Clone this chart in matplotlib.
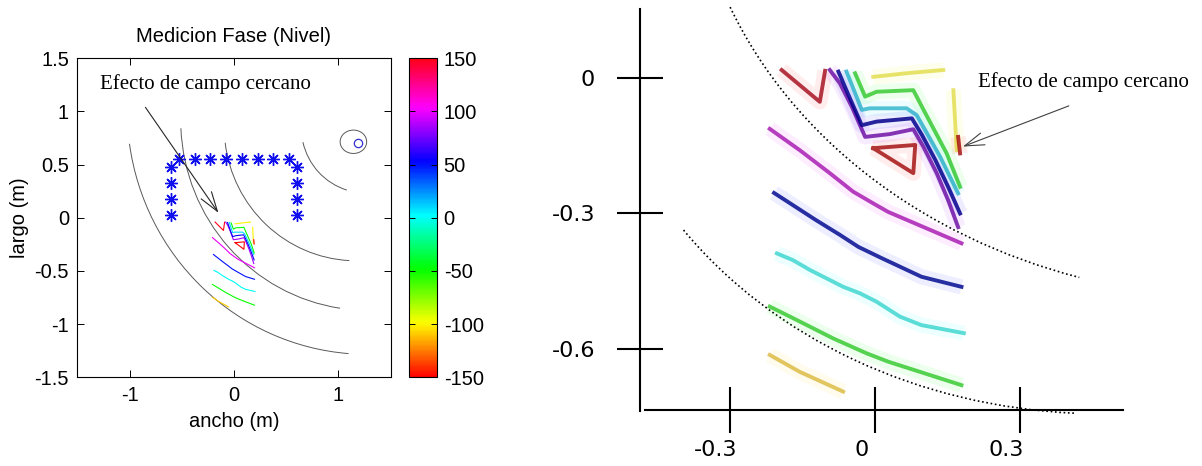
import matplotlib
matplotlib.use("Agg")
import matplotlib.pyplot as plt
from matplotlib.patches import Arc, Ellipse
from matplotlib.colors import Normalize, to_rgb
from matplotlib.cm import ScalarMappable
from matplotlib.transforms import ScaledTranslation

plt.rcParams['axes.unicode_minus'] = False

# phase (deg) of each contour line
line_levels = [100, 50, 0, -50, -110, 150, 85, 55, 10, -50, -100, -100, -150, -150]
# contour lines in metres (ancho, largo)
line_x = [
    [-0.206, -0.143, -0.080, -0.031, 0.011, 0.042, 0.196],
    [-0.197, -0.150, -0.111, -0.059, -0.020, 0.029, 0.112, 0.196],
    [-0.191, -0.157, -0.122, -0.087, -0.052, -0.017, 0.018, 0.067, 0.112, 0.201],
    [-0.206, -0.150, -0.073, -0.003, 0.043, 0.196],
    [-0.206, -0.143, -0.052],
    [-0.181, -0.101, -0.090],
    [-0.080, -0.059, -0.034, -0.006, 0.046, 0.095, 0.116, 0.144, 0.168, 0.189],
    [-0.062, -0.038, -0.013, 0.018, 0.092, 0.113, 0.141, 0.168, 0.193],
    [-0.045, -0.013, 0.004, 0.081, 0.102, 0.151, 0.189],
    [-0.027, -0.006, 0.018, 0.095, 0.113, 0.165, 0.193],
    [0.011, 0.081, 0.158],
    [0.179, 0.186],
    [0.011, 0.099, 0.095, 0.011],
    [0.189, 0.193],
]
line_y = [
    [-0.186, -0.239, -0.296, -0.342, -0.371, -0.392, -0.470],
    [-0.345, -0.381, -0.411, -0.449, -0.479, -0.507, -0.553, -0.578],
    [-0.495, -0.512, -0.536, -0.557, -0.578, -0.594, -0.615, -0.652, -0.673, -0.693],
    [-0.627, -0.660, -0.706, -0.743, -0.764, -0.822],
    [-0.747, -0.789, -0.838],
    [-0.040, -0.119, -0.042],
    [-0.040, -0.073, -0.131, -0.206, -0.199, -0.187, -0.230, -0.296, -0.363, -0.430],
    [-0.044, -0.110, -0.177, -0.168, -0.160, -0.201, -0.263, -0.330, -0.396],
    [-0.044, -0.139, -0.135, -0.135, -0.152, -0.255, -0.346],
    [-0.048, -0.106, -0.094, -0.090, -0.131, -0.247, -0.330],
    [-0.057, -0.048, -0.040],
    [-0.090, -0.239],
    [-0.234, -0.226, -0.296, -0.234],
    [-0.206, -0.247],
]

# measurement points (asterisks)
star_x = [-0.525, -0.375, -0.225, -0.075, 0.075, 0.225, 0.375, 0.525,
          -0.6, -0.6, -0.6, -0.6, 0.6, 0.6, 0.6, 0.6]
star_y = [0.55, 0.55, 0.55, 0.55, 0.55, 0.55, 0.55, 0.55,
          0.48, 0.33, 0.18, 0.03, 0.48, 0.33, 0.18, 0.03]

# grey wavefront arcs: centre, radius, start/end angle
arc_cx = [1.277, 1.28, 1.17, 1.26]
arc_cy = [1.016, 0.92, 0.86, 0.85]
arc_r = [2.30, 1.79, 1.264, 0.616]
arc_t1 = [188, 182.5, 187, 193]
arc_t2 = [265.5, 261.5, 267, 253]

# dotted arcs of the zoomed view
zarc_cx = [0.78, 0.489]
zarc_cy = [0.548, 0.176]
zarc_r = [1.153, 1.069]
zarc_t1 = [202, 215]
zarc_t2 = [253, 267]

source_x, source_y = 1.19, 0.706
ring_x, ring_y, ring_w, ring_h = 1.143, 0.715, 0.254, 0.22

cbar_ticks = [-150, -100, -50, 0, 50, 100, 150]
zoom_xticks = [-0.3, 0, 0.3]
zoom_yticks = [0, -0.3, -0.6]

note = 'Efecto de campo cercano'

cmap = plt.get_cmap('hsv')
norm = Normalize(-150, 150)


def zoom_color(level):
    # the enlarged copy shows the lines darker and a bit washed out
    r, g, b = to_rgb(cmap(norm(level)))
    lum = 0.299 * r + 0.587 * g + 0.114 * b
    k = 0.5 + 0.4 * lum
    return (r * k, g * k, b * k), 0.9 - 0.4 * lum


W, H = 1202, 466
fig = plt.figure(figsize=(W / 100, H / 100), dpi=100)

sans = 'Liberation Sans'
serif = 'Liberation Serif'

# ---------------- left panel
ax = fig.add_axes([77.3 / W, (H - 377.3) / H, 313.4 / W, 319 / H])
ax.set_xlim(-1.5, 1.5)
ax.set_ylim(-1.5, 1.5)

for cx, cy, r, t1, t2 in zip(arc_cx, arc_cy, arc_r, arc_t1, arc_t2):
    ax.add_patch(Arc((cx, cy), 2 * r, 2 * r, theta1=t1, theta2=t2,
                     color='0.35', lw=0.7))

for xs, ys, lev in zip(line_x, line_y, line_levels):
    ax.plot(xs, ys, color=cmap(norm(lev)), lw=0.8)

ax.plot(star_x, star_y, ls='none', marker=(8, 2, 0), ms=9, mew=1.0, color='#1010ee')
ax.add_patch(Ellipse((ring_x, ring_y), ring_w, ring_h, fill=False, color='0.35', lw=0.7))
ax.plot([source_x], [source_y], marker='o', ms=6, mfc='none', mec='#3030d0', mew=0.9)

ax.text(-1.286, 1.258, note, family=serif, fontsize=15, ha='left', va='center')
ax.annotate('', xy=(-0.149, 0.047), xytext=(-0.848, 1.039),
            arrowprops=dict(arrowstyle='->,head_length=1.4,head_width=0.45',
                            color='0.15', lw=0.8, shrinkA=0, shrinkB=0))

ax.set_xticks([-1, 0, 1])
ax.set_yticks([-1.5, -1, -0.5, 0, 0.5, 1, 1.5])
ax.set_yticklabels(['-1.5', '-1', '-0.5', '0', '0.5', '1', '1.5'])
ax.tick_params(direction='in', top=True, right=True, length=5, width=0.7,
               labelsize=14.5, pad=6)
for lab in ax.get_xticklabels() + ax.get_yticklabels():
    lab.set_family(sans)
for s in ax.spines.values():
    s.set_linewidth(0.8)
ax.set_title('Medicion Fase (Nivel)', family=sans, fontsize=14.5, pad=12)
ax.set_xlabel('ancho (m)', family=sans, fontsize=14.5, labelpad=5)
ax.set_ylabel('largo (m)', family=sans, fontsize=14.5, labelpad=4)

# colorbar
cax = fig.add_axes([409.3 / W, (H - 377.3) / H, 27.4 / W, 319 / H])
cb = fig.colorbar(ScalarMappable(norm=norm, cmap=cmap), cax=cax, ticks=cbar_ticks)
cb.ax.tick_params(direction='in', left=True, right=True, length=4, width=0.7,
                  labelsize=14.5, pad=5)
for lab in cb.ax.get_yticklabels():
    lab.set_family(sans)
cb.outline.set_linewidth(0.8)

# ---------------- right panel (zoom of the near field)
rect = [540 / W, 0, 662 / W, 1]
az = fig.add_axes(rect)
az.set_xlim(-0.6876, 0.7002)
az.set_ylim(-1.0226, 0.1337)
az.axis('off')

for cx, cy, r, t1, t2 in zip(zarc_cx, zarc_cy, zarc_r, zarc_t1, zarc_t2):
    az.add_patch(Arc((cx, cy), 2 * r, 2 * r, theta1=t1, theta2=t2,
                     color='black', lw=1.2, ls=(0, (1, 1.6))))

for xs, ys, lev in zip(line_x, line_y, line_levels):
    az.plot(xs, ys, color=cmap(norm(lev)), lw=11, alpha=0.07,
            solid_capstyle='butt')
for xs, ys, lev in zip(line_x, line_y, line_levels):
    c, a = zoom_color(lev)
    az.plot(xs, ys, color=c, alpha=a, lw=2.8)

az.text(0.231, -0.069, note, family=serif, fontsize=15, ha='left', va='center')
az.annotate('', xy=(0.199, -0.230), xytext=(0.421, -0.129),
            arrowprops=dict(arrowstyle='->,head_length=1.4,head_width=0.45',
                            color='0.25', lw=0.8, shrinkA=0, shrinkB=0))

# hand-drawn style ruler
ar = fig.add_axes(rect, label='ruler')
ar.set_xlim(-0.693, 0.6757)
ar.set_ylim(-0.8594, 0.1722)
ar.patch.set_visible(False)
ar.spines['top'].set_visible(False)
ar.spines['right'].set_visible(False)
ar.spines['left'].set_position(('data', -0.486))
ar.spines['left'].set_bounds(-0.738, 0.152)
ar.spines['bottom'].set_position(('data', -0.735))
ar.spines['bottom'].set_bounds(-0.476, 0.512)
for s in ('left', 'bottom'):
    ar.spines[s].set_linewidth(1.5)
ar.set_xticks(zoom_xticks)
ar.set_xticklabels(['-0.3', '0', '0.3'])
ar.set_yticks(zoom_yticks)
ar.set_yticklabels(['0', '-0.3', '-0.6'])
ar.tick_params(direction='inout', length=33, width=1.5, labelsize=16)
ar.tick_params(axis='y', pad=16)
ar.tick_params(axis='x', pad=5)
# labels of the sketch sit a little left of their ticks
shift = ScaledTranslation(-0.14, 0, fig.dpi_scale_trans)
for lab in ar.get_xticklabels():
    lab.set_transform(lab.get_transform() + shift)

fig.savefig('out.png', dpi=100)
